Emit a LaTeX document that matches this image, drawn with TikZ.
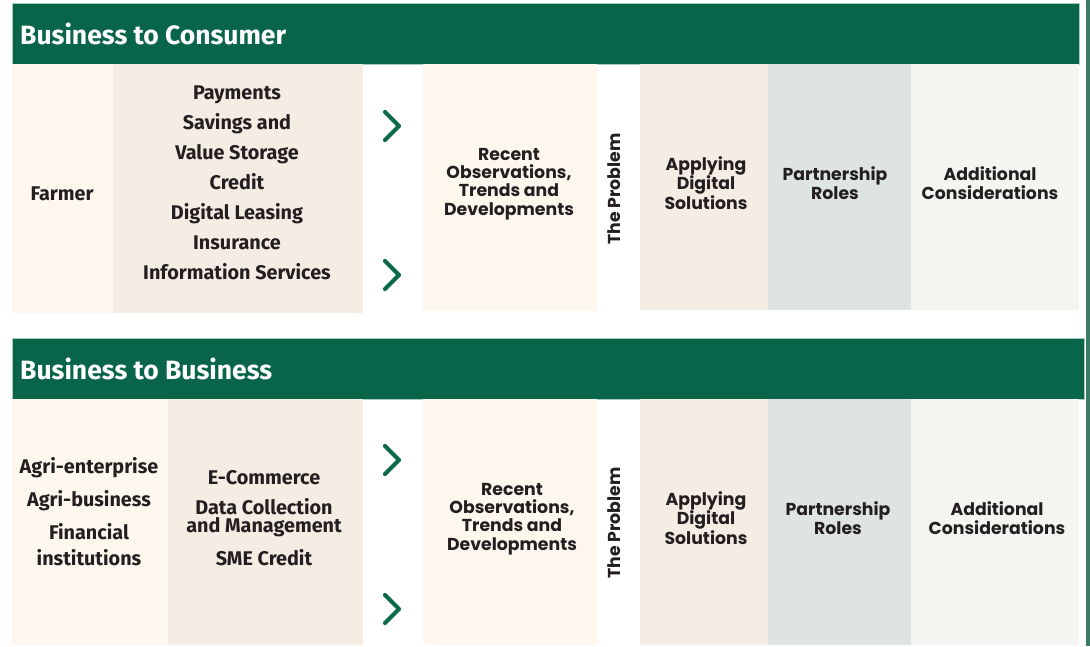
\documentclass[tikz,border=0pt]{standalone}
\usepackage{fontspec}
\setmainfont{Fira Sans}
\newfontfamily\fira{Fira Sans}
\newfontfamily\pop{Poppins}
\definecolor{hgreen}{HTML}{09654A}
\definecolor{hborder}{HTML}{A5CDBB}
\definecolor{edgegreen}{HTML}{3B7A63}
\definecolor{cream}{HTML}{FDF7EE}
\definecolor{beige}{HTML}{F5ECE3}
\definecolor{sage}{HTML}{DEE4E0}
\definecolor{offwhite}{HTML}{F4F5F1}
\definecolor{ink}{HTML}{231F20}
\definecolor{chev}{HTML}{0B6A4B}
\tikzset{
  x=1pt,y=-1pt,
  header/.style={fill=hgreen,draw=hborder,line width=0.8pt},
  headtext/.style={anchor=west,text=white,font=\fira\bfseries\fontsize{26.5}{28}\selectfont,inner sep=0pt},
  lefttext/.style={text=ink,align=center,font=\fira\bfseries\fontsize{19.8}{30}\selectfont,inner sep=0pt},
  righttext/.style={text=ink,align=center,font=\pop\bfseries\fontsize{17.3}{18.3}\selectfont,inner sep=0pt},
  probtext/.style={text=ink,rotate=90,font=\pop\bfseries\fontsize{17.3}{18}\selectfont,inner sep=0pt},
  chevron/.style={draw=chev,line width=4.2pt,line cap=round,line join=round},
}
\begin{document}
\begin{tikzpicture}
\useasboundingbox[fill=white] (0,0) rectangle (1090,646);
% right edge line
\fill[edgegreen] (1086,0) rectangle (1090,646);

% ===== Business to Consumer =====
\draw[header] (12,3.5) rectangle (1079,64);
\node[headtext] (h1) at (20,34) {Business to Consumer};
\fill[cream] (12,64) rectangle (113,313);
\fill[beige] (113,64) rectangle (363,313);
\fill[cream] (423,64) rectangle (597,311);
\fill[beige] (640,64) rectangle (768,310);
\fill[sage] (768,64) rectangle (911,310);
\fill[offwhite] (911,64) rectangle (1079,310);

\node[lefttext] (farmer) at (62,194) {Farmer};
\node[lefttext] (prod1) at (237,183) {Payments\\Savings and\\Value Storage\\Credit\\Digital Leasing\\Insurance\\Information Services};
\node[righttext] (rec1) at (509,184) {Recent\\Observations,\\Trends and\\Developments};
\node[probtext] (prob1) at (614,189) {The Problem};
\node[righttext] (app1) at (706,183) {Applying\\Digital\\Solutions};
\node[righttext] (part1) at (835,183) {Partnership\\Roles};
\node[righttext] (add1) at (990,183) {Additional\\Considerations};

\coordinate (c1a) at (385,112); \coordinate (c1b) at (399,126); \coordinate (c1c) at (385,140);
\draw[chevron] (c1a) -- (c1b) -- (c1c);
\coordinate (c2a) at (385,261); \coordinate (c2b) at (399,275); \coordinate (c2c) at (385,289);
\draw[chevron] (c2a) -- (c2b) -- (c2c);

% ===== Business to Business =====
\draw[header] (12,338.5) rectangle (1084.5,399);
\node[headtext] (h2) at (20,369) {Business to Business};
\fill[cream] (12,399) rectangle (168,645);
\fill[beige] (168,399) rectangle (363,645);
\fill[cream] (423,399) rectangle (597,645);
\fill[beige] (640,399) rectangle (768,645);
\fill[sage] (768,399) rectangle (911,645);
\fill[offwhite] (911,399) rectangle (1079,645);

\node[lefttext,font=\fira\bfseries\fontsize{19.8}{26}\selectfont] (agri) at (89,512) {Agri-enterprise\\[7pt]Agri-business\\[7pt]Financial\\institutions};
\node[lefttext,font=\fira\bfseries\fontsize{19.8}{18.5}\selectfont] (prod2) at (264,518) {E-Commerce\\[11.5pt]Data Collection\\and Management\\[11.5pt]SME Credit};
\node[righttext] (rec2) at (512,519) {Recent\\Observations,\\Trends and\\Developments};
\node[probtext] (prob2) at (614,523) {The Problem};
\node[righttext] (app2) at (706,518) {Applying\\Digital\\Solutions};
\node[righttext] (part2) at (838,518) {Partnership\\Roles};
\node[righttext] (add2) at (997,518) {Additional\\Considerations};

\coordinate (c3a) at (385,446); \coordinate (c3b) at (399,460); \coordinate (c3c) at (385,474);
\draw[chevron] (c3a) -- (c3b) -- (c3c);
\coordinate (c4a) at (385,595); \coordinate (c4b) at (399,609); \coordinate (c4c) at (385,623);
\draw[chevron] (c4a) -- (c4b) -- (c4c);
\end{tikzpicture}
\end{document}
